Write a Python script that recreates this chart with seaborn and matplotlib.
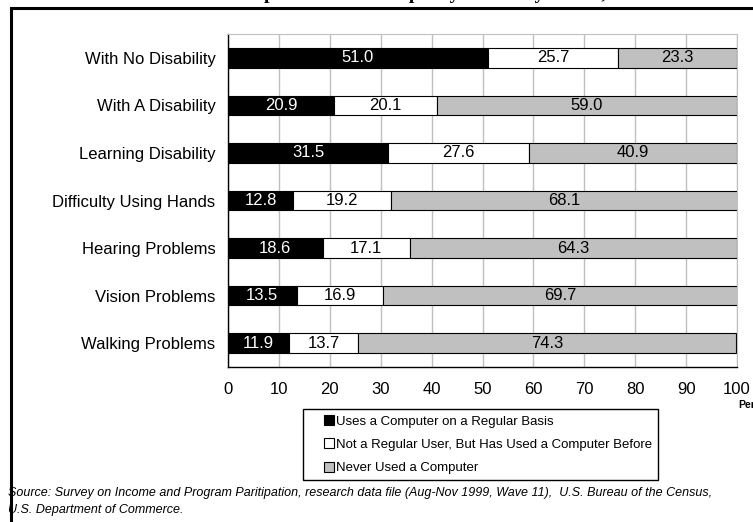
import matplotlib
matplotlib.use("Agg")
import matplotlib.pyplot as plt
import seaborn as sns
import pandas as pd
from matplotlib.patches import Patch, Rectangle
from matplotlib.legend_handler import HandlerPatch

# datos
categorias = ["With No Disability", "With A Disability", "Learning Disability",
              "Difficulty Using Hands", "Hearing Problems", "Vision Problems",
              "Walking Problems"]
regular = [51.0, 20.9, 31.5, 12.8, 18.6, 13.5, 11.9]
usado_antes = [25.7, 20.1, 27.6, 19.2, 17.1, 16.9, 13.7]
nunca = [23.3, 59.0, 40.9, 68.1, 64.3, 69.7, 74.3]
series = ["Uses a Computer on a Regular Basis",
          "Not a Regular User, But Has Used a Computer Before",
          "Never Used a Computer"]
colores = ["#000000", "#ffffff", "#c0c0c0"]
color_texto = ["white", "black", "black"]
x_ticks = list(range(0, 101, 10))

sns.set_style("white")
plt.rcParams['font.family'] = ['Liberation Sans', 'DejaVu Sans']
plt.rcParams['text.color'] = 'black'
plt.rcParams['xtick.labelcolor'] = 'black'
plt.rcParams['ytick.labelcolor'] = 'black'

fig = plt.figure(figsize=(7.53, 5.22), dpi=100)
ax = fig.add_axes([228/753, 1-367/522, (737-228)/753, (367-34)/522])

df = pd.DataFrame({"cat": categorias, "regular": regular,
                   "antes": usado_antes, "nunca": nunca})
izq = [0.0] * len(categorias)
for col, nombre, c, tc in zip(["regular", "antes", "nunca"], series, colores, color_texto):
    sns.barplot(data=df, y="cat", x=col, orient="h", color=c, left=izq,
                width=0.41, edgecolor="black", linewidth=0.8, ax=ax,
                saturation=1, label=nombre)
    cont = ax.containers[-1]
    ax.bar_label(cont, labels=[f"{v:.1f}" for v in df[col]], label_type="center",
                 color=tc, fontsize=12)
    izq = [a + b for a, b in zip(izq, df[col])]

ax.set_xlim(0, 100)
ax.set_ylim(len(categorias) - 0.5, -0.5)
ax.set_xticks(x_ticks)
ax.set_xticklabels([str(t) for t in x_ticks], fontsize=12)
ax.set_yticks([i - 0.5 for i in range(len(categorias) + 1)])
ax.set_yticklabels([])
ax.set_yticks(range(len(categorias)), minor=True)
ax.set_yticklabels(categorias, minor=True, fontsize=12)
ax.tick_params(axis="y", which="minor", length=0, pad=9)
ax.tick_params(axis="y", which="major", length=5, width=1, color="black", direction="out")
ax.tick_params(axis="x", length=5, width=1, color="black", direction="out", pad=6)
ax.set_xlabel("")
ax.set_ylabel("")
ax.grid(axis="x", color="#c0c0c0", linewidth=1)
ax.set_axisbelow(True)
for lado in ["top", "right"]:
    ax.spines[lado].set_color("#c0c0c0")
for lado in ["left", "bottom"]:
    ax.spines[lado].set_color("black")
    ax.spines[lado].set_linewidth(1)
ax.legend_ = None


# cuadrito de la leyenda pegado a la derecha del espacio del handle
def cuadro(legend, orig_handle, xdescent, ydescent, width, height, fontsize):
    lado = height
    return Rectangle((width - lado - xdescent, -ydescent), lado, lado)


handles = [Patch(facecolor=c, edgecolor="black", linewidth=0.8) for c in colores]
fig.legend(handles, series, loc="upper left", bbox_to_anchor=(303/753, 1-409/522),
           fontsize=9.5, frameon=True, fancybox=False, edgecolor="black",
           framealpha=1, handlelength=1.9, handleheight=0.8, handletextpad=0.15,
           labelspacing=0.81, borderpad=0.45, borderaxespad=0,
           handler_map={Patch: HandlerPatch(patch_func=cuadro)})

fig.text(738/753, 1-405/522, "Percent", fontsize=7.5, fontweight="bold", va="center")

fig.text(8/753, 1-496/522,
         "Source: Survey on Income and Program Paritipation, research data file (Aug-Nov 1999, Wave 11),  U.S. Bureau of the Census,",
         fontsize=9, style="italic")
fig.text(8/753, 1-513/522, "U.S. Department of Commerce.", fontsize=9, style="italic")

# titulo recortado arriba
fig.text(0.58, 1.001, "Computer Use for People by Disability Status, 1999",
         ha="center", va="baseline", fontsize=14, fontweight="bold",
         family=["Liberation Serif"])

# marco
fig.add_artist(Rectangle((10.5/753, -0.2), 1.2, 0.2 + 1 - 7.5/522,
                         transform=fig.transFigure, fill=False,
                         edgecolor="black", linewidth=2.2))

fig.savefig("out.png", dpi=100)
